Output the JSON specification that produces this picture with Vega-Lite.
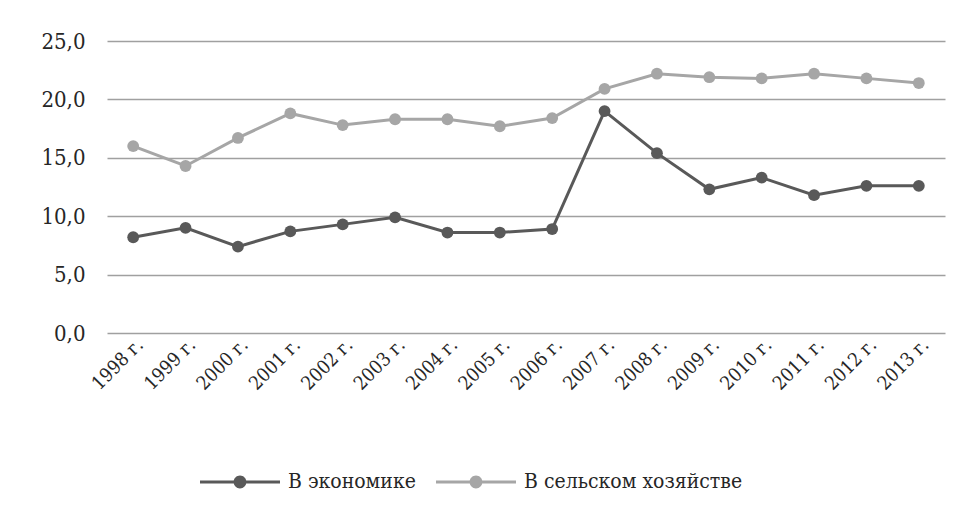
{
  "$schema": "https://vega.github.io/schema/vega-lite/v6.json",
  "width": 838,
  "height": 292,
  "autosize": {"type": "none"},
  "padding": {"left": 107, "top": 41, "right": 32, "bottom": 180},
  "background": "white",
  "config": {
    "view": {"stroke": null}
  },
  "data": {
    "values": [
      {"year": "1998 г.", "series": "В экономике", "value": 8.2},
      {"year": "1999 г.", "series": "В экономике", "value": 9.0},
      {"year": "2000 г.", "series": "В экономике", "value": 7.4},
      {"year": "2001 г.", "series": "В экономике", "value": 8.7},
      {"year": "2002 г.", "series": "В экономике", "value": 9.3},
      {"year": "2003 г.", "series": "В экономике", "value": 9.9},
      {"year": "2004 г.", "series": "В экономике", "value": 8.6},
      {"year": "2005 г.", "series": "В экономике", "value": 8.6},
      {"year": "2006 г.", "series": "В экономике", "value": 8.9},
      {"year": "2007 г.", "series": "В экономике", "value": 19.0},
      {"year": "2008 г.", "series": "В экономике", "value": 15.4},
      {"year": "2009 г.", "series": "В экономике", "value": 12.3},
      {"year": "2010 г.", "series": "В экономике", "value": 13.3},
      {"year": "2011 г.", "series": "В экономике", "value": 11.8},
      {"year": "2012 г.", "series": "В экономике", "value": 12.6},
      {"year": "2013 г.", "series": "В экономике", "value": 12.6},
      {"year": "1998 г.", "series": "В сельском хозяйстве", "value": 16.0},
      {"year": "1999 г.", "series": "В сельском хозяйстве", "value": 14.3},
      {"year": "2000 г.", "series": "В сельском хозяйстве", "value": 16.7},
      {"year": "2001 г.", "series": "В сельском хозяйстве", "value": 18.8},
      {"year": "2002 г.", "series": "В сельском хозяйстве", "value": 17.8},
      {"year": "2003 г.", "series": "В сельском хозяйстве", "value": 18.3},
      {"year": "2004 г.", "series": "В сельском хозяйстве", "value": 18.3},
      {"year": "2005 г.", "series": "В сельском хозяйстве", "value": 17.7},
      {"year": "2006 г.", "series": "В сельском хозяйстве", "value": 18.4},
      {"year": "2007 г.", "series": "В сельском хозяйстве", "value": 20.9},
      {"year": "2008 г.", "series": "В сельском хозяйстве", "value": 22.2},
      {"year": "2009 г.", "series": "В сельском хозяйстве", "value": 21.9},
      {"year": "2010 г.", "series": "В сельском хозяйстве", "value": 21.8},
      {"year": "2011 г.", "series": "В сельском хозяйстве", "value": 22.2},
      {"year": "2012 г.", "series": "В сельском хозяйстве", "value": 21.8},
      {"year": "2013 г.", "series": "В сельском хозяйстве", "value": 21.4}
    ]
  },
  "encoding": {
    "x": {
      "field": "year", "type": "ordinal", "title": null,
      "scale": {"type": "point", "padding": 0.5},
      "axis": {"labelFont": "DejaVu Serif Condensed, DejaVu Serif", "labelFontSize": 19, "labelColor": "#262626", "labelAngle": -45, "labelAlign": "right", "labelBaseline": "top", "labelPadding": 2, "ticks": false, "domain": false, "grid": false}
    },
    "y": {
      "field": "value", "type": "quantitative", "title": null,
      "scale": {"domain": [0, 25], "nice": false},
      "axis": {"labelFont": "DejaVu Serif Condensed, DejaVu Serif", "labelFontSize": 22, "labelColor": "#262626", "values": [0, 5, 10, 15, 20, 25], "labelExpr": "replace(format(datum.value, '.1f'), '.', ',')", "labelPadding": 22, "ticks": false, "domain": false, "gridColor": "#a0a0a0", "gridWidth": 1.3}
    },
    "color": {
      "field": "series", "type": "nominal",
      "scale": {"domain": ["В экономике", "В сельском хозяйстве"], "range": ["#595959", "#a6a6a6"]},
      "legend": {
        "labelFont": "DejaVu Serif Condensed, DejaVu Serif", "labelFontSize": 21, "labelColor": "#262626", "labelLimit": 0,
        "title": null, "orient": "none", "direction": "horizontal",
        "legendX": 93, "legendY": 401,
        "symbolType": "M-1,-0.04 H1 V0.04 H-1 Z M0.16,0 A0.16,0.16 0 1,1 -0.16,0 A0.16,0.16 0 1,1 0.16,0 Z",
        "symbolSize": 6400, "symbolStrokeWidth": 0, "labelOffset": 8, "columnPadding": 20,
        "encode": {"symbols": {"update": {"fill": {"scale": "color", "field": "value"}, "strokeWidth": {"value": 0}, "opacity": {"value": 1}}}}
      }
    }
  },
  "layer": [
    {"mark": {"type": "line", "strokeWidth": 3}},
    {"mark": {"type": "point", "filled": true, "size": 140, "opacity": 1}}
  ]
}
